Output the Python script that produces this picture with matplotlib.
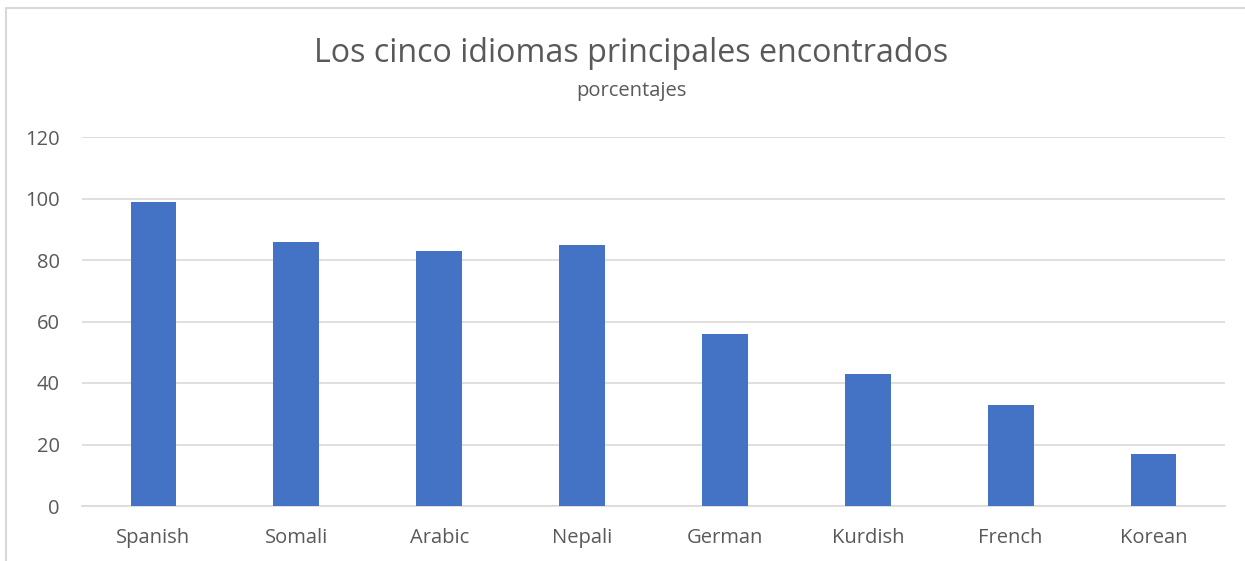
import matplotlib.pyplot as plt
from matplotlib.patches import Rectangle

languages = ["Spanish", "Somali", "Arabic", "Nepali", "German", "Kurdish", "French", "Korean"]
percentages = [99, 86, 83, 85, 56, 43, 33, 17]
y_ticks = [0, 20, 40, 60, 80, 100, 120]

plt.rcParams['font.family'] = ['Open Sans', 'DejaVu Sans']
text_color = "#595959"

fig = plt.figure(figsize=(12.45, 5.61), dpi=100)
# chart border (right and bottom edges fall outside the picture)
fig.patches.append(Rectangle((6 / 1245, -0.1), 1.2, 1 - 8 / 561 + 0.1, transform=fig.transFigure,
                             fill=False, edgecolor="#D9D9D9", linewidth=1.5))

ax = fig.add_axes([82 / 1245, 1 - 506 / 561, (1225 - 82) / 1245, (506 - 137) / 561])
x = range(len(languages))
ax.bar(x, percentages, width=0.32, color="#4472C4", zorder=3)
ax.set_xlim(-0.5, len(languages) - 0.5)
ax.set_ylim(0, 120)
ax.set_yticks(y_ticks)
ax.set_xticks(list(x))
ax.set_xticklabels(languages)
ax.grid(axis="y", color="#D9D9D9", linewidth=1.2, zorder=0)
for side in ["top", "right", "left"]:
    ax.spines[side].set_visible(False)
ax.spines["bottom"].set_color("#D9D9D9")
ax.spines["bottom"].set_linewidth(1.2)
ax.tick_params(axis="both", length=0, labelsize=14.5, colors=text_color)
ax.tick_params(axis="x", pad=16)
ax.tick_params(axis="y", pad=16)

fig.text(0.507, 1 - 54 / 561, "Los cinco idiomas principales encontrados", ha="center", va="center",
         fontsize=23.2, color=text_color)
fig.text(0.507, 1 - 91 / 561, "porcentajes", ha="center", va="center", fontsize=14.5, color=text_color)

fig.savefig("out.png", dpi=100)
